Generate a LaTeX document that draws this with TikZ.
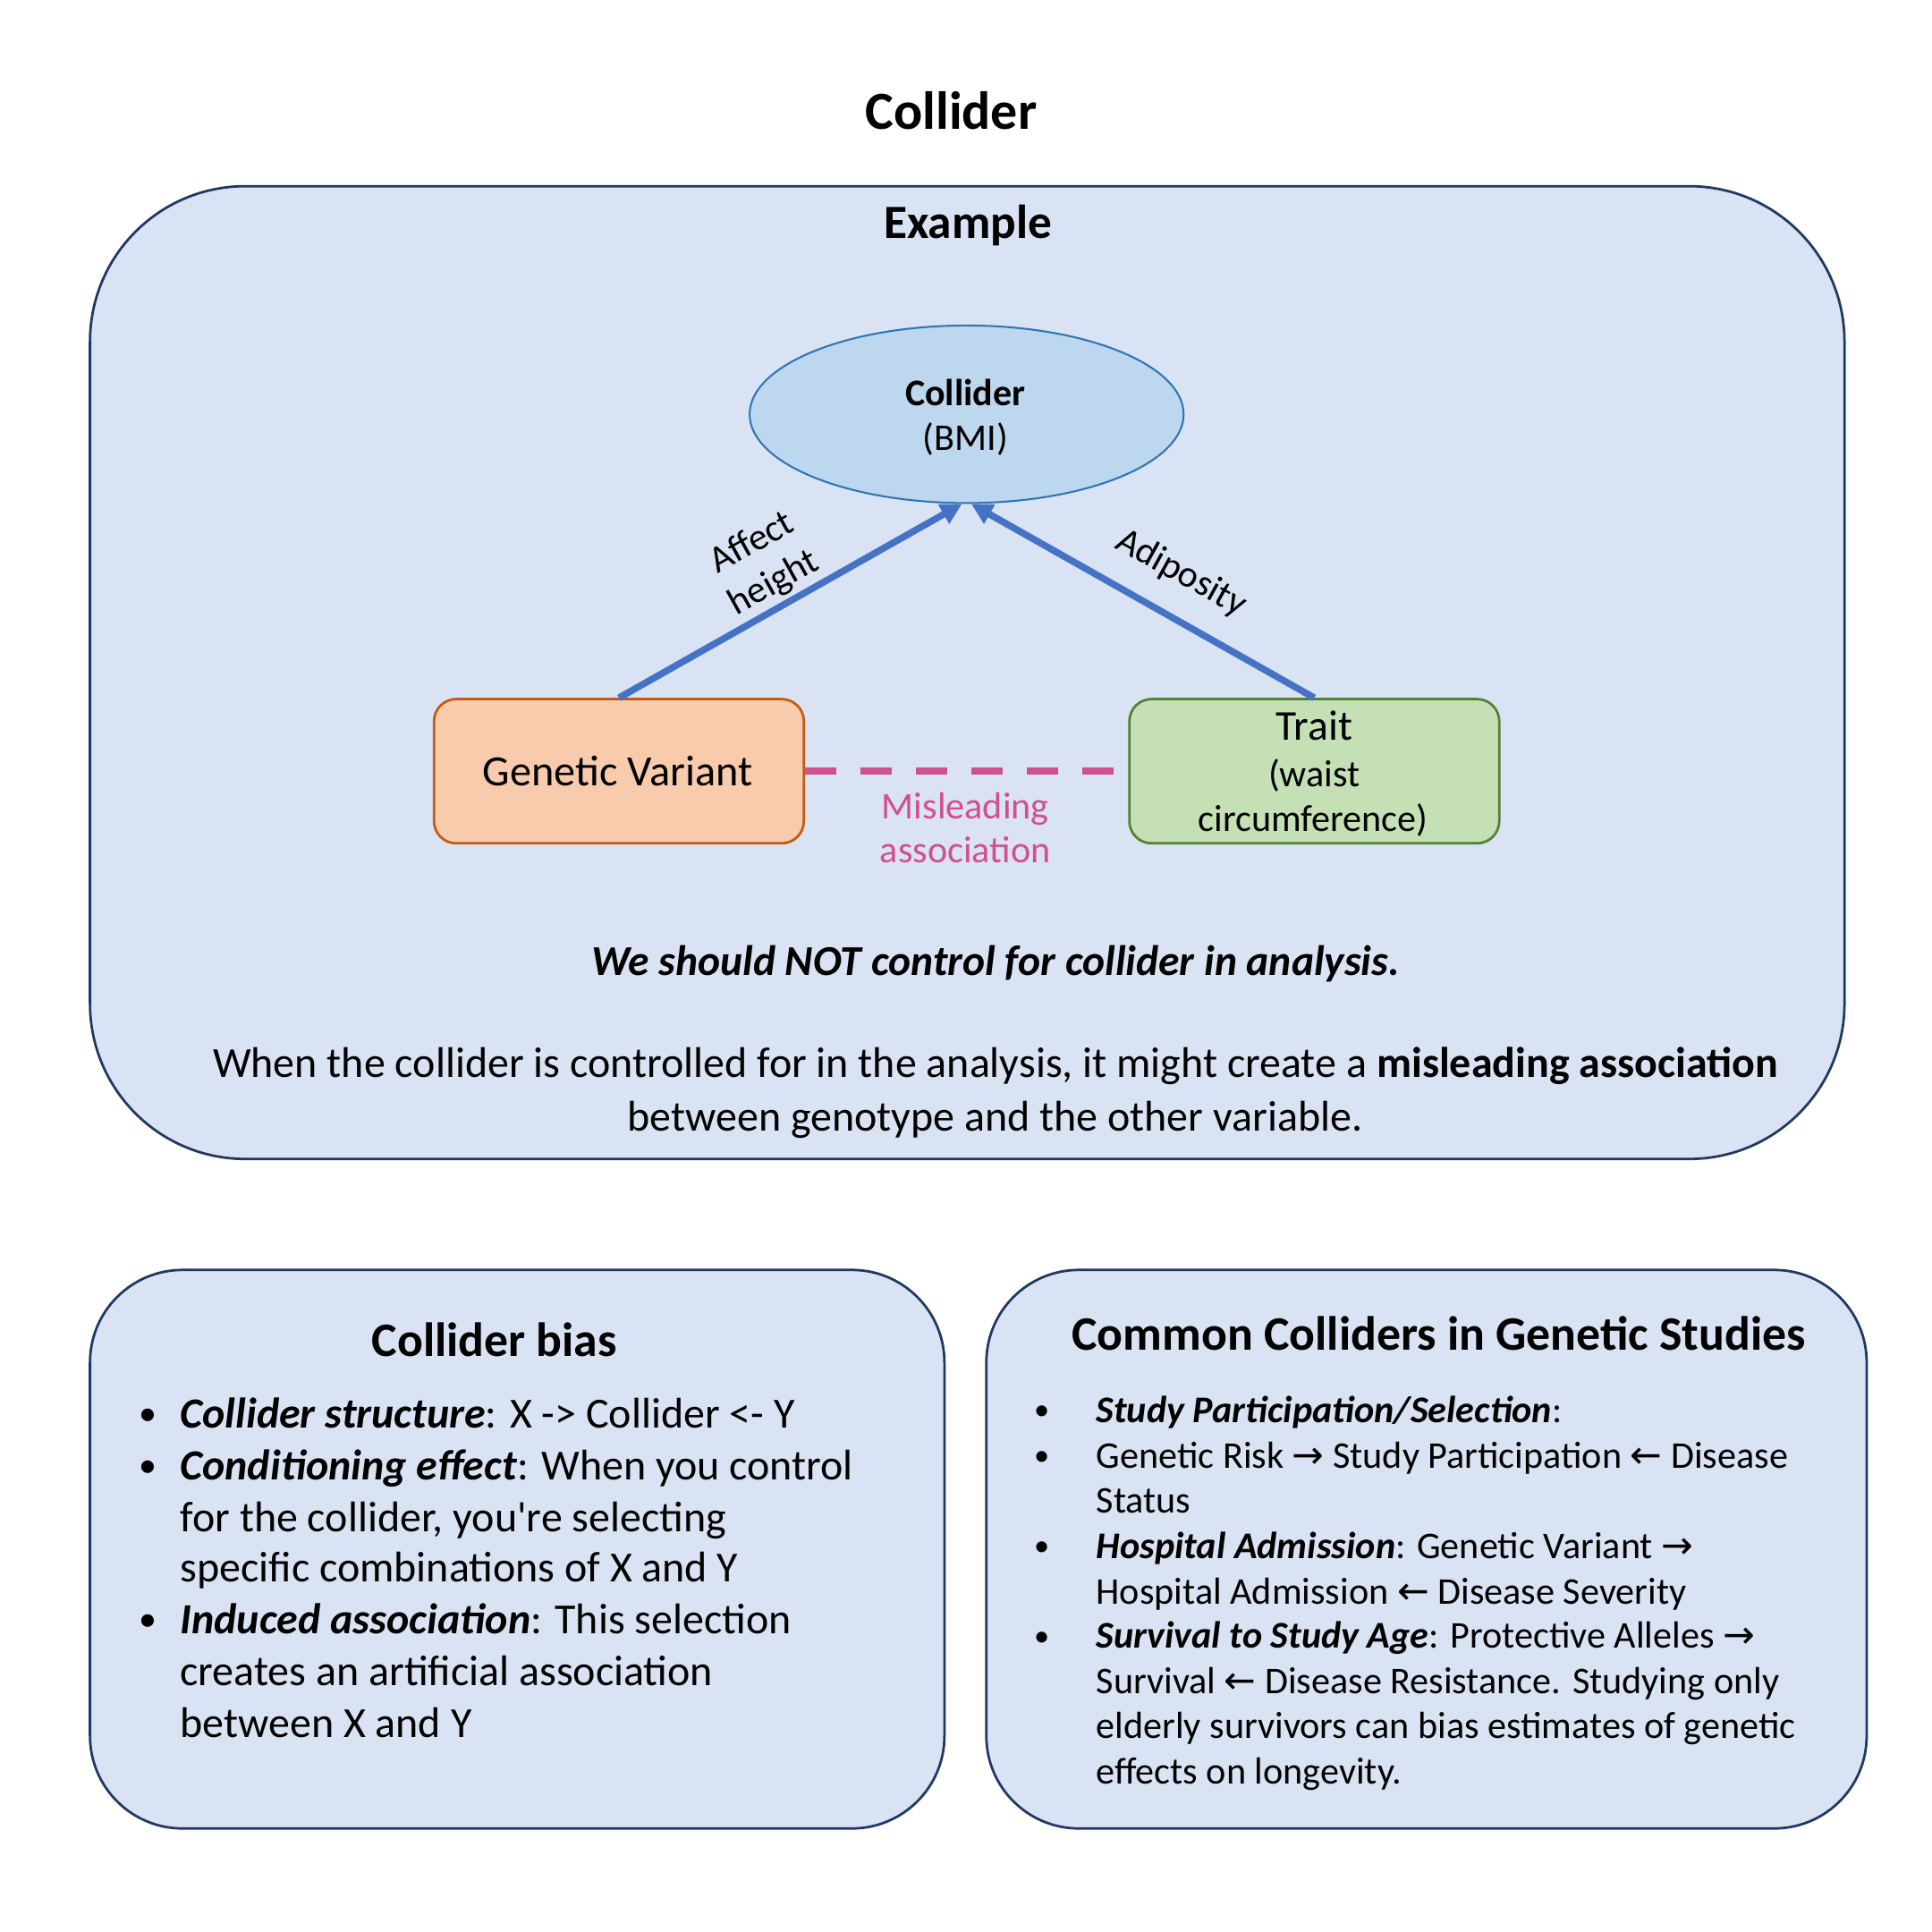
\documentclass[tikz,border=0pt]{standalone}
\usepackage{fontspec}
\setmainfont{Carlito}[Ligatures=TeXOff]
\newfontfamily\symf{DejaVu Sans}
\usetikzlibrary{shapes.geometric,arrows.meta}
\definecolor{panelfill}{HTML}{DAE3F3}
\definecolor{panelline}{HTML}{1F3864}
\definecolor{ellfill}{HTML}{BDD7EE}
\definecolor{ellline}{HTML}{2E75B6}
\definecolor{gvfill}{HTML}{F8CBAD}
\definecolor{gvline}{HTML}{C55A11}
\definecolor{trfill}{HTML}{C5E0B4}
\definecolor{trline}{HTML}{538135}
\definecolor{arrowblue}{HTML}{4472C4}
\definecolor{pinkc}{HTML}{D0508A}
\newcommand{\fsz}[2]{\fontsize{#1}{#2}\selectfont}
\newcommand{\myra}{{\symf\fontsize{31}{30}\selectfont →}}
\newcommand{\myla}{{\symf\fontsize{31}{30}\selectfont ←}}
\newcommand{\bi}[1]{\textbf{\textit{#1}}}
\begin{document}
\begin{tikzpicture}[x=1pt,y=-1pt,
  txt/.style={inner sep=0pt, anchor=base},
  ltxt/.style={inner sep=0pt, anchor=base west},
  panel/.style={draw=panelline, fill=panelfill, line width=2pt, inner sep=0pt, rectangle},
  smallbox/.style={line width=2pt, inner sep=0pt, rectangle, rounded corners=18pt, minimum width=300pt, minimum height=117pt},
  arr/.style={draw=arrowblue, line width=5.5pt, -{Triangle[length=17pt,width=17pt]}},
  big/.style={font=\fsz{34.8}{42}},
  mid/.style={font=\fsz{30.6}{36.6}},
  bulbig/.style={font=\fsz{29}{36}},
  bulmid/.style={font=\fsz{25}{30}}
]
\useasboundingbox (0,0) rectangle (1567,1567);
\fill[white] (0,0) rectangle (1567,1567);

% title
\node[txt, font=\fsz{43.5}{52}\bfseries] (title) at (771.5,105) {Collider};

% example panel
\node[panel, rounded corners=126pt, minimum width=1423pt, minimum height=789pt] (ex) at (784.5,545.5) {};
\node[txt, font=\fsz{38.7}{46}\bfseries] (exttl) at (785,193) {Example};

% collider ellipse
\node[ellipse, draw=ellline, fill=ellfill, line width=1.5pt, minimum width=352pt, minimum height=144pt, inner sep=0pt] (coll) at (784,336) {};
\node[txt, font=\fsz{30.5}{36}\bfseries] (collt) at (783,329) {Collider};
\node[txt, mid] (bmi) at (783,365) {(BMI)};

% genetic variant and trait boxes
\node[smallbox, draw=gvline, fill=gvfill] (gv) at (502,625.5) {};
\node[txt, font=\fsz{35}{42}] (gvt) at (501,637) {Genetic Variant};
\node[smallbox, draw=trline, fill=trfill] (trait) at (1066,625.5) {};
\node[txt, font=\fsz{34.5}{40}] (tr1) at (1066,600) {Trait};
\node[txt, mid] (tr2) at (1066,638) {(waist};
\node[txt, mid] (tr3) at (1065,674) {circumference)};

% connectors
\draw[arr] (gv.north) -- (coll.-93);
\draw[arr] (trait.north) -- (coll.-87);
\draw[draw=pinkc, line width=6pt, dash pattern=on 25pt off 20pt] (gv.east) -- (trait.west);

% labels
\node[font=\fsz{30.5}{37}, rotate=29, align=center, inner sep=0pt] (aff) at (619,457) {Affect\\height};
\node[font=\fsz{30.5}{37}, rotate=-29, inner sep=0pt] (adi) at (958,465) {Adiposity};
\node[txt, mid, text=pinkc] (mis1) at (783,664) {Misleading};
\node[txt, mid, text=pinkc] (mis2) at (783,700) {association};

% statements
\node[txt, font=\fsz{34.5}{42}\bfseries\itshape] (warn) at (807.5,791) {We should NOT control for collider in analysis.};
\node[txt, big] (p1) at (807.5,874) {When the collider is controlled for in the analysis, it might create a \textbf{misleading association}};
\node[txt, big] (p2) at (807,917) {between genotype and the other variable.};

% collider bias panel
\node[panel, rounded corners=75pt, minimum width=693pt, minimum height=453pt] (cb) at (419.5,1256.5) {};
\node[txt, font=\fsz{39}{46}\bfseries] (cbt) at (401,1100) {Collider bias};
\node[txt, bulbig] (cbb1) at (120,1156) {•};
\node[txt, bulbig] (cbb2) at (120,1198) {•};
\node[txt, bulbig] (cbb3) at (120,1323) {•};
\node[ltxt, big] (l1) at (146,1158) {\bi{Collider structure}: X -> Collider <- Y};
\node[ltxt, big] (l2) at (146,1200) {\bi{Conditioning effect}: When you control};
\node[ltxt, big] (l3) at (146,1242) {for the collider, you're selecting};
\node[ltxt, big] (l4) at (146,1283) {specific combinations of X and Y};
\node[ltxt, big] (l5) at (146,1325) {\bi{Induced association}: This selection};
\node[ltxt, big] (l6) at (146,1367) {creates an artificial association};
\node[ltxt, big] (l7) at (146,1409) {between X and Y};

% common colliders panel
\node[panel, rounded corners=75pt, minimum width=714pt, minimum height=453pt] (cc) at (1157,1256.5) {};
\node[txt, font=\fsz{39}{46}\bfseries] (cct) at (1167,1095) {Common Colliders in Genetic Studies};
\node[txt, bulmid] (ccb1) at (845,1152) {•};
\node[txt, bulmid] (ccb2) at (845,1189) {•};
\node[txt, bulmid] (ccb3) at (845,1262) {•};
\node[txt, bulmid] (ccb4) at (845,1335) {•};
\node[ltxt, mid] (r1) at (889,1154) {\bi{Study Participation/Selection}:};
\node[ltxt, mid] (r2) at (889,1191) {Genetic Risk \myra{} Study Participation \myla{} Disease};
\node[ltxt, mid] (r3) at (889,1227) {Status};
\node[ltxt, mid] (r4) at (889,1264) {\bi{Hospital Admission}: Genetic Variant \myra};
\node[ltxt, mid] (r5) at (889,1301) {Hospital Admission \myla{} Disease Severity};
\node[ltxt, mid] (r6) at (889,1337) {\bi{Survival to Study Age}: Protective Alleles \myra};
\node[ltxt, mid] (r7) at (889,1374) {Survival \myla{} Disease Resistance. Studying only};
\node[ltxt, mid] (r8) at (889,1410) {elderly survivors can bias estimates of genetic};
\node[ltxt, mid] (r9) at (889,1447) {effects on longevity.};
\end{tikzpicture}
\end{document}
